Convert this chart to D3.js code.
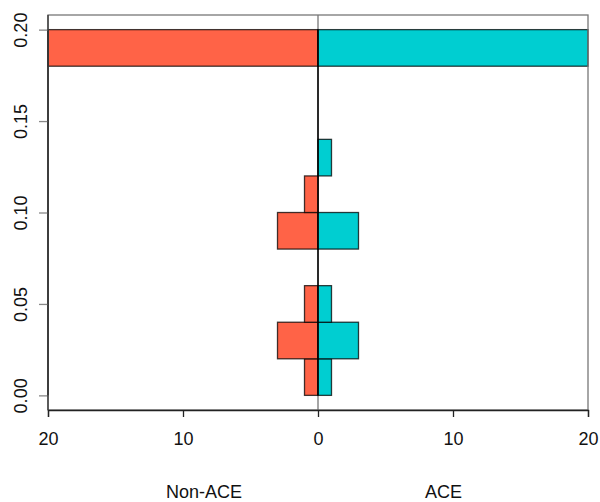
<!DOCTYPE html>
<html><head><meta charset="utf-8">
<script src="https://cdn.jsdelivr.net/npm/d3@7"></script>
<style>body{margin:0;background:#fff}svg{display:block}text{font-family:"Liberation Sans",Arial,sans-serif}</style>
</head><body><svg id="c" width="600" height="502"></svg>
<script>
// bins (lower edges) of width 0.02
const binStarts = [0.00, 0.02, 0.04, 0.06, 0.08, 0.10, 0.12, 0.14, 0.16, 0.18];
const binWidth = 0.02;
const nonAce = [1, 3, 1, 0, 3, 1, 0, 0, 0, 20];
const ace    = [1, 3, 1, 0, 3, 0, 1, 0, 0, 20];
const xTicks = [-20, -10, 0, 10, 20];
const xTickLabels = ["20", "10", "0", "10", "20"];
const yTicks = [0.00, 0.05, 0.10, 0.15, 0.20];
const groupLabels = ["Non-ACE", "ACE"];
const groupLabelPos = [-8.45, 9.3];

const svg = d3.select("#c");
const L = 48, R = 588, T = 15, B = 410;
const FS = 18;
const x = d3.scaleLinear().domain([-20, 20]).range([L, R]);
const y = d3.scaleLinear().domain([-0.008, 0.208]).range([B, T]);

// grey zero line
svg.append("line").attr("x1", x(0)).attr("x2", x(0)).attr("y1", T).attr("y2", B)
  .attr("stroke", "#888").attr("stroke-width", 1.5);

const stroke = "rgba(0,0,0,0.75)";
// bars
const g = svg.append("g");
binStarts.forEach((b, i) => {
  g.append("rect").attr("x", x(-nonAce[i])).attr("width", x(0) - x(-nonAce[i]))
    .attr("y", y(b + binWidth)).attr("height", y(b) - y(b + binWidth))
    .attr("fill", "#FF6347").attr("stroke", stroke).attr("stroke-width", 1.3);
  g.append("rect").attr("x", x(0)).attr("width", x(ace[i]) - x(0))
    .attr("y", y(b + binWidth)).attr("height", y(b) - y(b + binWidth))
    .attr("fill", "#00CED1").attr("stroke", stroke).attr("stroke-width", 1.3);
});
// black centre line across bins (zero-width bar borders)
svg.append("line").attr("x1", x(0)).attr("x2", x(0))
  .attr("y1", y(binStarts[binStarts.length-1] + binWidth)).attr("y2", y(binStarts[0]))
  .attr("stroke", "#000").attr("stroke-width", 1.5);

// box
svg.append("rect").attr("x", L).attr("y", T).attr("width", R - L).attr("height", B - T)
  .attr("fill", "none").attr("stroke", "#777").attr("stroke-width", 1.3);

// x axis
const xa = svg.append("g").attr("transform", `translate(0,${B})`)
  .call(d3.axisBottom(x).tickValues(xTicks).tickSize(7).tickPadding(15)
    .tickFormat((d, i) => xTickLabels[i]));
xa.select(".domain").attr("stroke", "#222").attr("stroke-width", 1.3);
xa.selectAll(".tick line").attr("stroke", "#222").attr("stroke-width", 1.3);
xa.selectAll("text").attr("font-size", FS).attr("fill", "#111")
  .attr("font-family", "Liberation Sans, Arial, sans-serif");

// y axis
const ya = svg.append("g").attr("transform", `translate(${L},0)`)
  .call(d3.axisLeft(y).tickValues(yTicks).tickSize(9).tickFormat(d3.format(".2f")));
ya.select(".domain").attr("stroke", "#222").attr("stroke-width", 1.3)
  .attr("d", `M0,${y(0.2)}V${y(0)}`);
ya.selectAll(".tick line").attr("stroke", "#888").attr("stroke-width", 1.3);
ya.selectAll(".tick text").attr("font-size", FS).attr("fill", "#111")
  .attr("font-family", "Liberation Sans, Arial, sans-serif")
  .attr("x", 0).attr("y", 0).attr("text-anchor", "middle")
  .attr("transform", "translate(-27,0) rotate(-90)").attr("dy", "0.35em");
// left box edge over axis
svg.append("line").attr("x1", L).attr("x2", L).attr("y1", T).attr("y2", B)
  .attr("stroke", "#333").attr("stroke-width", 1.3);

// group labels
groupLabels.forEach((t, i) => {
  svg.append("text").attr("x", x(groupLabelPos[i])).attr("y", 497.5)
    .attr("text-anchor", "middle").attr("font-size", FS).attr("fill", "#111").text(t);
});
</script></body></html>
